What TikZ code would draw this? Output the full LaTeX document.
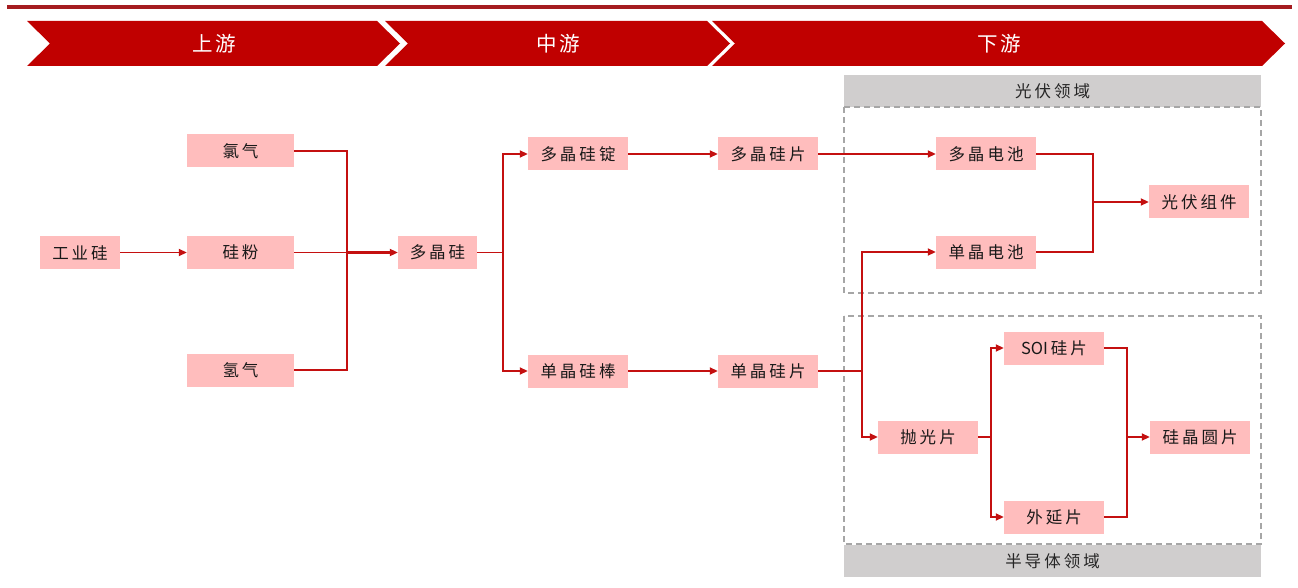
\documentclass[tikz,border=0pt]{standalone}
\usepackage{fontspec}
\newfontfamily\cjk{Noto Sans CJK SC}
\usetikzlibrary{arrows.meta}
\definecolor{bannerred}{HTML}{C00000}
\definecolor{toprule}{HTML}{A51C20}
\definecolor{linkred}{HTML}{C41010}
\definecolor{boxpink}{HTML}{FFBDBD}
\definecolor{headgray}{HTML}{D0CECE}
\definecolor{dashgray}{HTML}{A6A6A6}
\newcommand\ks{\hspace{3pt}}
\tikzset{
  box/.style={fill=boxpink, minimum width=100pt, minimum height=33pt, inner sep=0pt,
    font=\cjk\fontsize{16.5}{16.5}\selectfont, text=black!90},
  link/.style={draw=linkred, line width=1.8pt},
  arr/.style={link, -{Triangle[length=8pt,width=7pt]}},
  banner/.style={fill=bannerred, draw=none},
  bannertext/.style={font=\cjk\fontsize{20.5}{20.5}\selectfont, text=white},
  region/.style={draw=dashgray, line width=1.2pt, dash pattern=on 6pt off 4pt},
  headbar/.style={fill=headgray, draw=none},
  headtext/.style={font=\cjk\fontsize{16.5}{16.5}\selectfont, text=black!85}
}
\begin{document}
\begin{tikzpicture}[x=1pt,y=-1pt]
\useasboundingbox (0,0) rectangle (1298,588);
% top rule
\fill[toprule] (7,5.5) rectangle (1292,9);
% banners
\fill[banner] (27,21) -- (377,21) -- (400,43.5) -- (377,66) -- (27,66) -- (50,43.5) -- cycle;
\fill[banner] (385,21) -- (707,21) -- (730,43.5) -- (707,66) -- (385,66) -- (408,43.5) -- cycle;
\fill[banner] (712,21) -- (1262,21) -- (1285,43.5) -- (1262,66) -- (712,66) -- (735,43.5) -- cycle;
\node[bannertext] (up) at (214,43.5) {上\ks 游};
\node[bannertext] (mid) at (558,43.5) {中\ks 游};
\node[bannertext] (down) at (999,43.5) {下\ks 游};
% regions
\fill[headgray] (844,75) rectangle (1261,107);
\node[headtext] (pvhead) at (1052.5,91) {光\ks 伏\ks 领\ks 域};
\draw[region] (844,107) rectangle (1261,293);
\draw[region] (844,316) rectangle (1261,544);
\fill[headgray] (844,545) rectangle (1261,577);
\node[headtext] (semihead) at (1052.5,561) {半\ks 导\ks 体\ks 领\ks 域};
% boxes
\node[box, minimum width=80pt] (gy) at (80,252.5) {工\ks 业\ks 硅};
\node[box, minimum width=107pt] (cl) at (240.5,151) {氯\ks 气};
\node[box, minimum width=107pt] (gf) at (240.5,252.5) {硅\ks 粉};
\node[box, minimum width=107pt] (hq) at (240.5,370) {氢\ks 气};
\node[box, minimum width=79pt] (dj) at (437.5,252.5) {多\ks 晶\ks 硅};
\node[box] (djd) at (578,154) {多\ks 晶\ks 硅\ks 锭};
\node[box] (djb) at (578,371) {单\ks 晶\ks 硅\ks 棒};
\node[box] (djp) at (768,154) {多\ks 晶\ks 硅\ks 片};
\node[box] (dpp) at (768,371) {单\ks 晶\ks 硅\ks 片};
\node[box] (dc) at (986,154) {多\ks 晶\ks 电\ks 池};
\node[box] (sc) at (986,252) {单\ks 晶\ks 电\ks 池};
\node[box] (zj) at (1199,202) {光\ks 伏\ks 组\ks 件};
\node[box] (pg) at (928,437) {抛\ks 光\ks 片};
\node[box] (soi) at (1054,348) {SOI\ks 硅\ks 片};
\node[box] (wy) at (1054,517) {外\ks 延\ks 片};
\node[box] (jy) at (1200,437) {硅\ks 晶\ks 圆\ks 片};
% junctions
\coordinate (m1) at (347,252.5);
\coordinate (s1) at (503,252.5);
\coordinate (s2) at (862,371);
\coordinate (m2) at (1093,202);
\coordinate (s3) at (991,437);
\coordinate (m3) at (1127,437);
% connectors
\draw[arr] (gy.east) -- (gf.west);
\draw[link] (cl.east) -| (m1);
\draw[link] (hq.east) -| (m1);
\draw[link] (gf.east) -- (m1);
\draw[arr, line width=2.6pt] (m1) -- (dj.west);
\draw[link] (dj.east) -- (s1);
\draw[arr] (s1) |- (djd.west);
\draw[arr] (s1) |- (djb.west);
\draw[arr] (djd.east) -- (djp.west);
\draw[arr] (djb.east) -- (dpp.west);
\draw[arr] (djp.east) -- (dc.west);
\draw[link] (dpp.east) -- (s2);
\draw[arr] (s2) |- (sc.west);
\draw[arr] (s2) |- (pg.west);
\draw[link] (dc.east) -| (m2);
\draw[link] (sc.east) -| (m2);
\draw[arr] (m2) -- (zj.west);
\draw[link] (pg.east) -- (s3);
\draw[arr] (s3) |- (soi.west);
\draw[arr] (s3) |- (wy.west);
\draw[link] (soi.east) -| (m3);
\draw[link] (wy.east) -| (m3);
\draw[arr] (m3) -- (jy.west);
\end{tikzpicture}
\end{document}
